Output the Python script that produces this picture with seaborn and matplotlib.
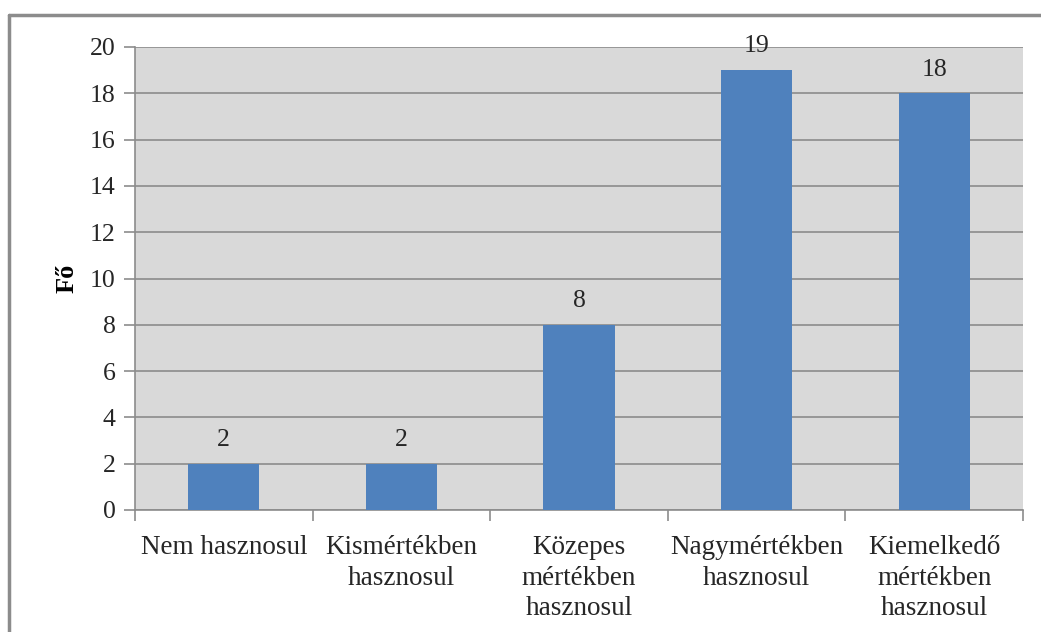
import matplotlib
matplotlib.use("Agg")
import matplotlib.pyplot as plt
import seaborn as sns
import pandas as pd
from matplotlib.lines import Line2D

# adatok
categories = ["Nem hasznosul", "Kismértékben\nhasznosul", "Közepes\nmértékben\nhasznosul",
              "Nagymértékben\nhasznosul", "Kiemelkedő\nmértékben\nhasznosul"]
values = [2, 2, 8, 19, 18]
yticks = list(range(0, 21, 2))

sns.set_theme(style="white")
plt.rcParams['font.family'] = ['Liberation Serif', 'DejaVu Serif']

df = pd.DataFrame({"kat": categories, "fo": values})

fig = plt.figure(figsize=(10.41, 6.32), dpi=100)
ax = fig.add_axes([135 / 1041, 1 - 510 / 632, (1023 - 135) / 1041, (510 - 47) / 632])

sns.barplot(data=df, x="kat", y="fo", color="#4f81bd", width=0.4, saturation=1,
            edgecolor="none", linewidth=0, ax=ax, zorder=3)

ax.set_facecolor("#d9d9d9")
ax.set_ylim(0, 20)
ax.set_xlim(-0.5, len(categories) - 0.5)
ax.set_yticks(yticks)
ax.yaxis.grid(True, color="#8c8c8c", linewidth=1.2, zorder=0)
ax.set_axisbelow(True)

for s in ["top", "right"]:
    ax.spines[s].set_visible(False)
for s in ["left", "bottom"]:
    ax.spines[s].set_color("#8c8c8c")
    ax.spines[s].set_linewidth(1.2)

# tick jelek a kategóriahatárokon
ax.set_xticks([i - 0.5 for i in range(len(categories) + 1)], minor=True)
ax.tick_params(axis="x", which="minor", length=8, color="#8c8c8c", width=1.2, direction="out", bottom=True)
ax.tick_params(axis="x", which="major", length=0, labelsize=19.5, pad=18, colors="#262626")
ax.tick_params(axis="y", length=8, color="#8c8c8c", width=1.2, direction="out", left=True,
               labelsize=18.5, pad=6, colors="#262626")
for lab in ax.get_xticklabels():
    lab.set_linespacing(1.3)

ax.set_xlabel("")
ax.set_ylabel("Fő", fontsize=19, fontweight="bold", labelpad=8, color="#000000")

for i, v in enumerate(values):
    ax.text(i, v + 0.55, str(v), ha="center", va="bottom", fontsize=18.5, color="#262626")

# keret (a kivágott diagramterület széle)
fig.add_artist(Line2D([9 / 1041, 9 / 1041], [0, 1 - 15 / 632], transform=fig.transFigure,
                      color="#8c8c8c", linewidth=2.5))
fig.add_artist(Line2D([9 / 1041, 1], [1 - 15 / 632, 1 - 15 / 632], transform=fig.transFigure,
                      color="#8c8c8c", linewidth=2.5))

fig.savefig("out.png", dpi=100)
